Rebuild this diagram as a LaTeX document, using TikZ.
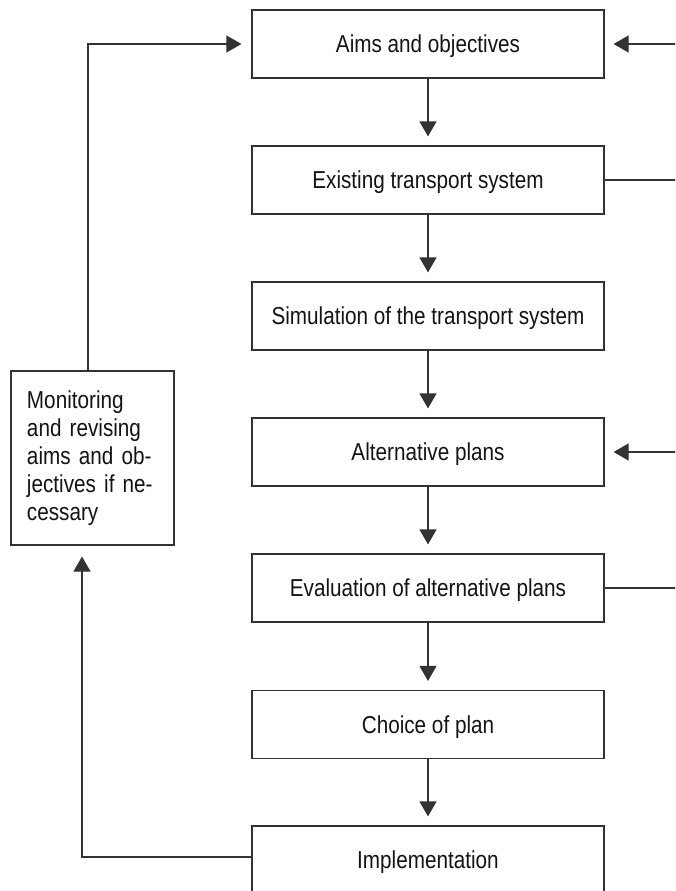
\documentclass[tikz,border=0pt]{standalone}
\usepackage{fontspec}
\setmainfont{Liberation Sans}[FakeStretch=0.845]
\usetikzlibrary{arrows.meta}
\begin{document}
\begin{tikzpicture}[x=1pt,y=-1pt,
  line width=1.2pt,
  every node/.style={font=\fontsize{24.5}{28}\selectfont, text=black!92},
  flowbox/.style={draw=black!80, minimum width=352pt, minimum height=68pt, inner sep=0pt, text height=17.5pt, text depth=0pt},
  monbox/.style={draw=black!80, minimum height=174pt, text width=131pt, inner xsep=16pt, inner ysep=0pt, align=left},
  arr/.style={draw=black!80, -{Triangle[length=15pt,width=17pt]}},
  line/.style={draw=black!80}]
\clip (0,0) rectangle (675,891);
\fill[white] (0,0) rectangle (675,891);

\node[flowbox] (aims) at (428,44) {Aims and objectives};
\node[flowbox] (exist) at (428,180) {Existing transport system};
\node[flowbox] (sim) at (428,316) {Simulation of the transport system};
\node[flowbox] (alt) at (428,452) {Alternative plans};
\node[flowbox] (eval) at (428,588) {Evaluation of alternative plans};
\node[flowbox] (choice) at (428,724.5) {Choice of plan};
\node[flowbox] (impl) at (428,860) {Implementation};
\node[monbox] (mon) at (92.5,458) {Monitoring\\ and revising\\ aims and ob-\\ jectives if ne-\\ cessary};

\coordinate (r1) at (690,44);
\coordinate (r2) at (690,180);
\coordinate (r3) at (690,452);
\coordinate (r4) at (690,588);

\draw[arr, shorten >=9pt] (aims) -- (exist);
\draw[arr, shorten >=9pt] (exist) -- (sim);
\draw[arr, shorten >=9pt] (sim) -- (alt);
\draw[arr, shorten >=9pt] (alt) -- (eval);
\draw[arr, shorten >=9pt] (eval) -- (choice);
\draw[arr, shorten >=9pt] (choice) -- (impl);

\draw[arr, shorten >=10pt] ([xshift=-4.5pt]mon.north) |- (aims.west);
\draw[arr, shorten >=11pt] ([yshift=3pt]impl.west) -| ([xshift=-10.5pt]mon.south);

\draw[arr, shorten >=9pt] (r1) -- (aims.east);
\draw[line] (exist.east) -- (r2);
\draw[arr, shorten >=9pt] (r3) -- (alt.east);
\draw[line] (eval.east) -- (r4);
\end{tikzpicture}
\end{document}
